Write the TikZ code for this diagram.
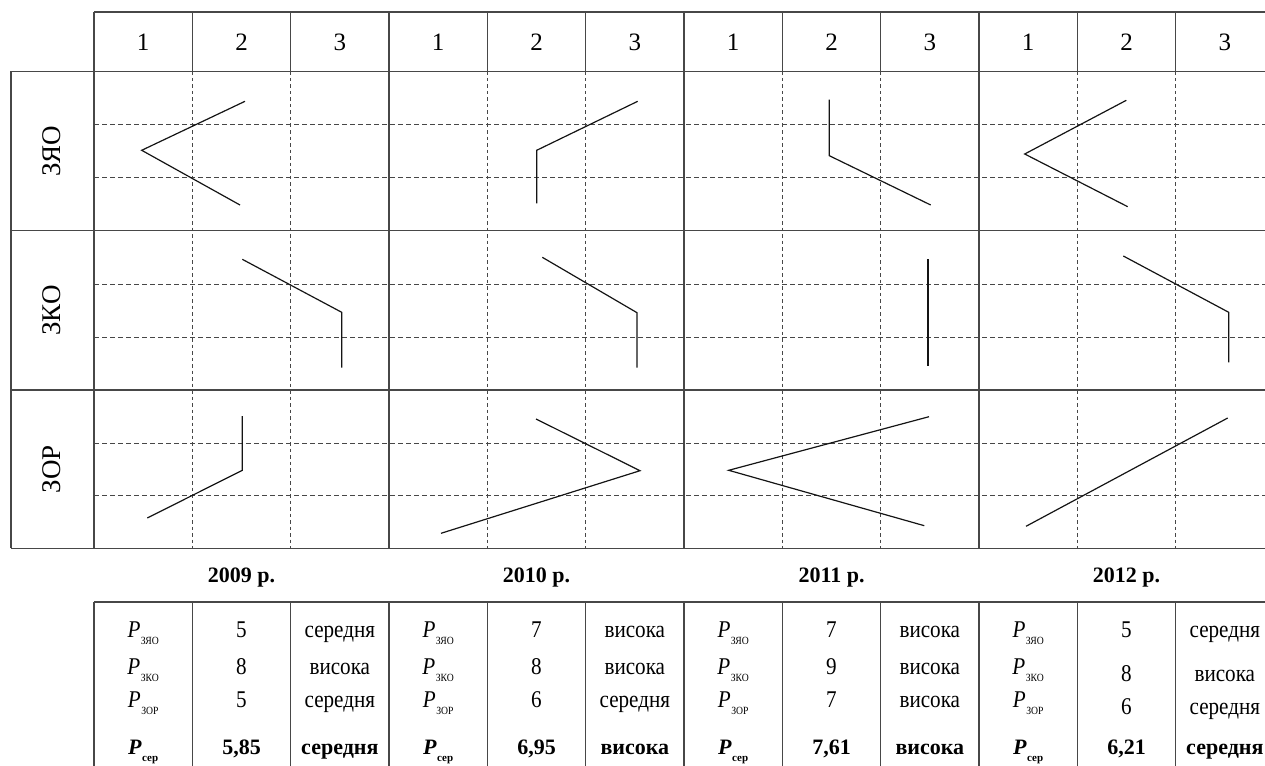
\documentclass[tikz,border=0pt]{standalone}
\usepackage{fontspec}
\setmainfont{Liberation Serif}
\newfontfamily\condfont[FakeStretch=0.88]{Liberation Serif}
\newcommand{\Psub}[1]{\textit{P}\kern0.5pt\raisebox{-7pt}{\fontsize{11}{11}\selectfont #1}}
\newcommand{\Pser}{\textbf{\textit{P}}\kern0.5pt\raisebox{-7pt}{\fontsize{11}{11}\selectfont\bfseries сер}}
\tikzset{
  gridline/.style={line width=1.3pt, draw=black!72},
  hdash/.style={line width=1pt, draw=black!72, dash pattern=on 5pt off 3pt},
  vdash/.style={line width=1pt, draw=black!72, dash pattern=on 3.5pt off 3pt},
  curve/.style={line width=1.2pt, draw=black!92},
  hd/.style={font=\fontsize{25}{25}\selectfont, inner sep=0pt},
  rowlab/.style={font=\fontsize{27}{27}\selectfont, rotate=90, inner sep=0pt},
  yr/.style={font=\fontsize{22}{22}\selectfont\bfseries, inner sep=0pt},
  td/.style={font=\condfont\fontsize{24}{24}\selectfont, inner sep=0pt, anchor=base},
  tb/.style={font=\fontsize{22}{22}\selectfont\bfseries, inner sep=0pt, anchor=base},
}
\begin{document}
\begin{tikzpicture}[x=1pt,y=-1pt]
\useasboundingbox (0,0) rectangle (1265,765);
% dashed grid
\foreach \y in {124.6,177.6,284,337,443,495.5}
  \draw[hdash] (94,\y) -- (1274,\y);
\foreach \k in {1,2,4,5,7,8,10,11}
  \draw[vdash] ({94+98.333*\k},71.5) -- ({94+98.333*\k},548.3);
% solid grid
\draw[gridline] (94,12) -- (1274,12);
\foreach \y in {71.5,230.7,390,548.3}
  \draw[gridline] (11,\y) -- (1274,\y);
\draw[gridline] (11,71.5) -- (11,548.3);
\foreach \k in {0,3,6,9,12}
  \draw[gridline] ({94+98.333*\k},12) -- ({94+98.333*\k},548.3);
\foreach \k in {1,2,4,5,7,8,10,11}
  \draw[gridline] ({94+98.333*\k},12) -- ({94+98.333*\k},71.5);
% header digits
\foreach \k in {0,...,11}{
  \pgfmathtruncatemacro\d{mod(\k,3)+1}
  \node[hd] (h\k) at ({94+98.333*(\k+0.5)},42) {\d};
}
% row labels
\node[rowlab] (rZYO) at (52,151) {ЗЯО};
\node[rowlab] (rZKO) at (52,310.5) {ЗКО};
\node[rowlab] (rZOR) at (52,469) {ЗОР};
% curves: ZYaO
\draw[curve] (245,101.3) -- (141.7,150.3) -- (240,205);
\draw[curve] (637.7,101.3) -- (536.7,150.3) -- (536.7,203.3);
\draw[curve] (829.3,99.7) -- (829.3,155.7) -- (930.7,205);
\draw[curve] (1126.3,100.3) -- (1024.7,154) -- (1127.7,206.7);
% curves: ZKO
\draw[curve] (242.3,259.3) -- (341.7,312.3) -- (341.7,367.7);
\draw[curve] (542.3,257.3) -- (637,312.7) -- (637,367.7);
\draw[curve] (928,259.3) -- (928,366);
\draw[curve] (1123.3,256) -- (1228.7,312.3) -- (1228.7,362.3);
% curves: ZOR
\draw[curve] (242.3,416) -- (242.3,470.3) -- (147.3,518);
\draw[curve] (536,419) -- (640,470.7) -- (441,533.3);
\draw[curve] (929,416.7) -- (728.7,470.3) -- (924.3,525.7);
\draw[curve] (1227.7,418) -- (1026,526.3);
% year labels
\node[yr] (y2009) at (241.5,578) {2009 р.};
\node[yr] (y2010) at (536.5,578) {2010 р.};
\node[yr] (y2011) at (831.5,578) {2011 р.};
\node[yr] (y2012) at (1126.5,578) {2012 р.};
% bottom table
\draw[gridline] (94,602) -- (1274,602);
\foreach \k in {0,...,12}
  \draw[gridline] ({94+98.333*\k},602) -- ({94+98.333*\k},770);
\foreach \a/\sa/\b/\sb/\c/\sc/\m/\sm/\off [count=\i from 0] in {
  5/середня/8/висока/5/середня/{5,85}/середня/0,
  7/висока/8/висока/6/середня/{6,95}/висока/0,
  7/висока/9/висока/7/висока/{7,61}/висока/0,
  5/середня/8/висока/6/середня/{6,21}/середня/7}{
  \pgfmathsetmacro\xa{94+295*\i+49.17}
  \pgfmathsetmacro\xb{94+295*\i+147.5}
  \pgfmathsetmacro\xc{94+295*\i+245.83}
  \node[td] (pa\i) at (\xa,637) {\Psub{ЗЯО}};
  \node[td] (pb\i) at (\xa,674) {\Psub{ЗКО}};
  \node[td] (pc\i) at (\xa,707) {\Psub{ЗОР}};
  \node[tb] (pm\i) at (\xa,754) {\Pser};
  \node[td] (va\i) at (\xb,637) {\a};
  \node[td] (vb\i) at (\xb,674+\off) {\b};
  \node[td] (vc\i) at (\xb,707+\off) {\c};
  \node[tb] (vm\i) at (\xb,754) {\m};
  \node[td] (sa\i) at (\xc,637) {\sa};
  \node[td] (sb\i) at (\xc,674+\off) {\sb};
  \node[td] (sc\i) at (\xc,707+\off) {\sc};
  \node[tb] (sm\i) at (\xc,754) {\sm};
}
\end{tikzpicture}
\end{document}
